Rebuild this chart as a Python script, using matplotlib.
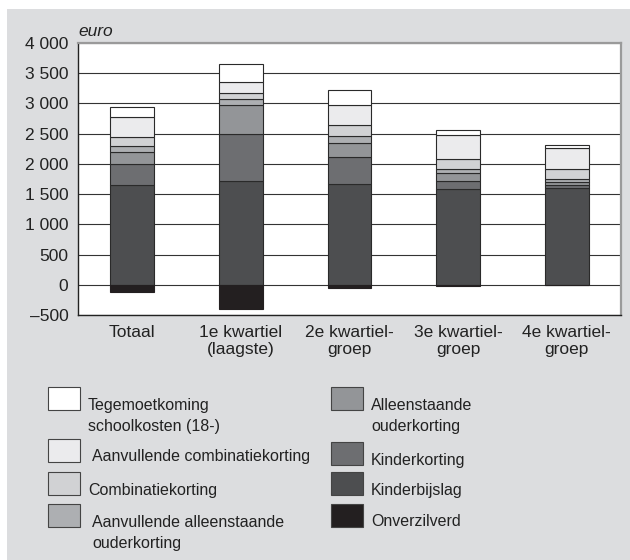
import numpy as np
import matplotlib
matplotlib.use("Agg")
from matplotlib import pyplot as plt
from matplotlib.patches import Rectangle

plt.rcParams['font.family'] = ['Liberation Sans', 'DejaVu Sans']

# categorieen (inkomensgroepen)
groepen = ["Totaal", "1e kwartiel\n(laagste)", "2e kwartiel-\ngroep", "3e kwartiel-\ngroep", "4e kwartiel-\ngroep"]

# bedragen in euro
kinderbijslag = [1655, 1719, 1670, 1590, 1600]
kinderkorting = [345, 777, 451, 126, 50]
alleenst_ouderkorting = [193, 474, 226, 127, 50]
aanv_alleenst_ouderkorting = [99, 99, 121, 71, 45]
combinatiekorting = [154, 105, 177, 171, 170]
aanv_combinatiekorting = [331, 176, 330, 390, 346]
tegemoetkoming = [171, 303, 248, 88, 55]
onverzilverd = [-125, -402, -55, -27, -5]

yticks = [-500, 0, 500, 1000, 1500, 2000, 2500, 3000, 3500, 4000]

reeksen = [
    (kinderbijslag, '#4d4e50'),
    (kinderkorting, '#6d6e71'),
    (alleenst_ouderkorting, '#939598'),
    (aanv_alleenst_ouderkorting, '#adafb2'),
    (combinatiekorting, '#d1d2d4'),
    (aanv_combinatiekorting, '#ebebed'),
    (tegemoetkoming, '#ffffff'),
]

W, H = 630, 560
fig = plt.figure(figsize=(6.3, 5.6), dpi=100)
fig.patch.set_facecolor('white')
fig.add_artist(Rectangle((7 / W, 0), 1 - 7 / W, 1 - 9 / H, transform=fig.transFigure,
                         facecolor='#dcdddf', edgecolor='none', zorder=-10))

ax = fig.add_axes([78 / W, 1 - 315 / H, (621 - 78) / W, (315 - 43) / H])
ax.set_facecolor('white')

x = np.arange(len(groepen))
bw = 0.405
bottom = np.zeros(len(groepen))
for waarden, kleur in reeksen:
    ax.bar(x, waarden, bw, bottom=bottom, color=kleur, edgecolor='#2a2a2a', linewidth=0.8, zorder=3)
    bottom += np.array(waarden)
ax.bar(x, onverzilverd, bw, color='#231f20', edgecolor='#231f20', linewidth=0.8, zorder=3)

ax.set_xlim(-0.5, len(groepen) - 0.5)
ax.set_ylim(-500, 4000)
ax.set_yticks(yticks)
ax.set_yticklabels([f"{v:,}".replace(",", " ").replace("-", "–") for v in yticks], fontsize=12.5, color='#222222')
ax.set_xticks(x)
ax.set_xticklabels(groepen, fontsize=12.5, color='#222222', linespacing=1.15)
ax.tick_params(axis='both', length=0)
ax.tick_params(axis='y', pad=7)
ax.tick_params(axis='x', pad=7)
ax.grid(axis='y', color='#333333', linewidth=0.8, zorder=0)
ax.set_axisbelow(True)
for s in ['left', 'bottom']:
    ax.spines[s].set_color('#222222')
    ax.spines[s].set_linewidth(1.0)
for s in ['top', 'right']:
    ax.spines[s].set_color('#9a9a9a')
    ax.spines[s].set_linewidth(1.6)

fig.text(78 / W, 1 - 31 / H, "euro", fontsize=12.5, style='italic', color='#222222', va='center')

# legenda
links = [
    ('#ffffff', "Tegemoetkoming\nschoolkosten (18-)", 387, 88),
    ('#ebebed', "Aanvullende combinatiekorting", 439, 92),
    ('#d1d2d4', "Combinatiekorting", 472, 88),
    ('#adafb2', "Aanvullende alleenstaande\nouderkorting", 504, 92),
]
rechts = [
    ('#939598', "Alleenstaande\nouderkorting", 387, 371),
    ('#6d6e71', "Kinderkorting", 442, 371),
    ('#4d4e50', "Kinderbijslag", 472, 371),
    ('#231f20', "Onverzilverd", 504, 371),
]
for items, px in [(links, 48), (rechts, 331)]:
    for kleur, tekst, py, tx in items:
        fig.add_artist(Rectangle((px / W, 1 - (py + 23) / H), 32 / W, 23 / H, transform=fig.transFigure,
                                 facecolor=kleur, edgecolor='#444444', linewidth=0.8))
        ty = py + 29 if "\n" in tekst else py + 18
        fig.text(tx / W, 1 - ty / H, tekst, fontsize=11.5, color='#222222', va='center',
                 linespacing=1.42)

fig.savefig("out.png", dpi=100, facecolor=fig.get_facecolor())
